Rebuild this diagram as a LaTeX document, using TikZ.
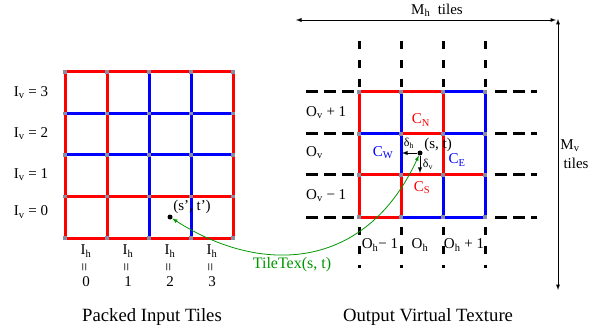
\documentclass[tikz,border=0pt]{standalone}
\usepackage{fontspec}
\setmainfont{Liberation Serif}
\usepackage{tikz}
\usetikzlibrary{arrows,positioning}
\definecolor{rojotile}{RGB}{255,0,0}
\definecolor{azultile}{RGB}{0,0,255}
\definecolor{verdetile}{RGB}{0,150,0}
\definecolor{grisnudo}{RGB}{140,140,165}
\tikzset{
    rojo/.style={draw=rojotile,line width=3pt},
    azul/.style={draw=azultile,line width=3pt},
    guionh/.style={draw,line width=3pt,dash pattern=on 12pt off 6pt},
    guionv/.style={draw,line width=3pt,dash pattern=on 8pt off 11pt},
    etiqueta/.style={inner sep=0pt,font=\fontsize{15}{18}\selectfont},
    pequena/.style={inner sep=0pt,font=\fontsize{12}{14}\selectfont},
    titulo/.style={inner sep=0pt,font=\fontsize{18.7}{22}\selectfont},
    punto/.style={circle,fill,inner sep=0pt,minimum size=5pt},
    flecha/.style={draw,->,>=latex,line width=0.9pt},
    dobleflecha/.style={draw,<->,>=latex,line width=0.9pt},
    curva/.style={draw=verdetile,<->,>=latex,line width=0.8pt},
}

\begin{document}
\begin{tikzpicture}[x=1pt,y=-1pt]
    \useasboundingbox (0,0) rectangle (602,331);

    % rejilla de entrada
    \draw [azul] (65,113.5) -- (233,113.5);
    \draw [azul] (65,155) -- (233,155);
    \draw [azul] (149,72) -- (149,238);
    \draw [azul] (191,72) -- (191,238);
    \draw [rojo] (65,72) -- (233,72);
    \draw [rojo] (65,196.5) -- (233,196.5);
    \draw [rojo] (65,238) -- (233,238);
    \draw [rojo] (65,72) -- (65,238);
    \draw [rojo] (107,72) -- (107,238);
    \draw [rojo] (233,72) -- (233,238);
    \foreach \x in {65,107,149,191,233}
        \foreach \y in {72,113.5,155,196.5,238}
            \fill [grisnudo] (\x-1.75,\y-1.75) rectangle +(3.5,3.5);

    \node [etiqueta] (iv3) at (31,93) {I\textsubscript{v} = 3};
    \node [etiqueta] (iv2) at (31,134) {I\textsubscript{v} = 2};
    \node [etiqueta] (iv1) at (31,175) {I\textsubscript{v} = 1};
    \node [etiqueta] (iv0) at (31,212) {I\textsubscript{v} = 0};
    \foreach \i in {0,...,3} {
        \node [etiqueta] (ih\i) at (86+42*\i,251) {I\textsubscript{h}};
        \node [etiqueta,rotate=90] (eq\i) at (86+42*\i,267) {=};
        \node [etiqueta] (n\i) at (86+42*\i,282) {\i};
    }

    \node [punto] (stizq) at (170,217) {};
    \node [etiqueta] (lstizq) at (192,207) {(s', t')};
    \node [titulo] (tizq) at (152,317) {Packed Input Tiles};

    % textura virtual de salida
    \foreach \y in {92,134,175,217} {
        \draw [guionh] (306,\y) -- (354,\y);
        \draw [guionh] (495,\y) -- (537,\y);
    }
    \foreach \x in {359,401,443,485} {
        \draw [guionv] (\x,41) -- (\x,89);
        \draw [guionv] (\x,227) -- (\x,268);
    }
    \draw [rojo] (359,92) -- (443,92);
    \draw [azul] (443,92) -- (485,92);
    \draw [azul] (359,134) -- (401,134);
    \draw [rojo] (401,134) -- (443,134);
    \draw [azul] (443,134) -- (485,134);
    \draw [rojo] (359,175) -- (485,175);
    \draw [rojo] (359,217) -- (401,217);
    \draw [azul] (401,217) -- (485,217);
    \draw [rojo] (359,92) -- (359,217);
    \draw [azul] (401,92) -- (401,175);
    \draw [rojo] (401,175) -- (401,217);
    \draw [rojo] (443,92) -- (443,175);
    \draw [azul] (443,175) -- (443,217);
    \draw [azul] (485,92) -- (485,217);
    \foreach \x in {359,401,443,485}
        \foreach \y in {92,134,175,217}
            \fill [grisnudo] (\x-1.75,\y-1.75) rectangle +(3.5,3.5);

    \node [etiqueta,anchor=west] (ovmas) at (306,113) {O\textsubscript{v} + 1};
    \node [etiqueta,anchor=west] (ov) at (306,153) {O\textsubscript{v}};
    \node [etiqueta,anchor=west] (ovmenos) at (306,196) {O\textsubscript{v} − 1};
    \node [etiqueta] (ohmenos) at (380,245) {O\textsubscript{h}− 1};
    \node [etiqueta] (oh) at (420,245) {O\textsubscript{h}};
    \node [etiqueta] (ohmas) at (464,245) {O\textsubscript{h} + 1};

    \node [etiqueta,text=rojotile] (cn) at (421,120) {C\textsubscript{N}};
    \node [etiqueta,text=azultile] (cw) at (383,153) {C\textsubscript{W}};
    \node [etiqueta,text=azultile] (ce) at (457,160) {C\textsubscript{E}};
    \node [etiqueta,text=rojotile] (cs) at (422,188) {C\textsubscript{S}};

    \node [punto] (stder) at (420,153) {};
    \node [etiqueta] (lstder) at (438,145) {(s, t)};
    \coordinate (dh) at (402,153);
    \coordinate (dv) at (420,173);
    \path [flecha] (stder) -- (dh);
    \path [flecha] (stder) -- (dv);
    \node [pequena] (ldh) at (409,143) {δ\textsubscript{h}};
    \node [pequena] (ldv) at (428,164) {δ\textsubscript{v}};

    \coordinate (mhizq) at (296,20);
    \coordinate (mhder) at (556,20);
    \coordinate (mvarr) at (558,19);
    \coordinate (mvaba) at (558,290);
    \path [dobleflecha] (mhizq) -- (mhder);
    \path [dobleflecha] (mvarr) -- (mvaba);
    \node [etiqueta] (lmh) at (437,10) {M\textsubscript{h}~ tiles};
    \node [etiqueta] (lmv) at (570,146) {M\textsubscript{v}};
    \node [etiqueta] (lmvt) at (576,163) {tiles};
    \node [titulo] (tder) at (428,317) {Output Virtual Texture};

    % correspondencia
    \path [curva] (stizq) .. controls (260,275) and (365,272) .. (stder);
    \node [etiqueta,font=\fontsize{16}{19}\selectfont,text=verdetile] (ltile) at (292,265) {TileTex(s, t)};
\end{tikzpicture}
\end{document}
